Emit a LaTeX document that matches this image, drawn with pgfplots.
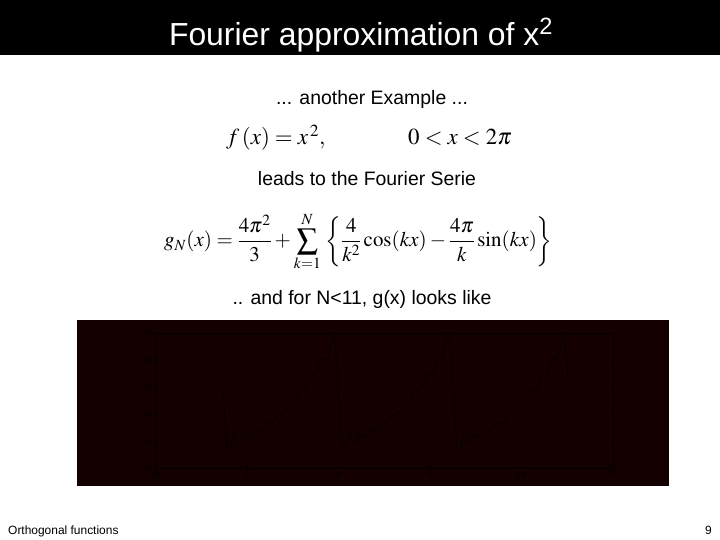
\documentclass[border=0pt]{standalone}
\usepackage{mathptmx}
\usepackage[no-math]{fontspec}
\setmainfont{Liberation Sans}
\usepackage{pgfplots}
\pgfplotsset{compat=1.18}
\definecolor{chartbg}{RGB}{20,0,0}
\begin{document}
\begin{tikzpicture}[x=1bp,y=1bp]
\useasboundingbox (0,0) rectangle (720,540);
\fill[white] (0,0) rectangle (720,540);
\fill[black] (0,485) rectangle (720,540);
\node[anchor=base,white,inner sep=0pt,font=\fontsize{32}{36}\selectfont] at (361,494) {Fourier approximation of x\textsuperscript{2}};
\node[anchor=base,inner sep=0pt,font=\fontsize{19.5}{22}\selectfont] at (372,435) {... another Example ...};
\node[anchor=base west,inner sep=0pt,font=\fontsize{23}{26}\selectfont] at (226,395) {$f\,(x) = x^{\,2},$};
\node[anchor=base west,inner sep=0pt,font=\fontsize{23}{26}\selectfont] at (408,395) {$0 < x < 2\pi$};
\node[anchor=base,inner sep=0pt,font=\fontsize{19.5}{22}\selectfont] at (367,354) {leads to the Fourier Serie};
\node[anchor=base west,inner sep=0pt,font=\fontsize{21}{25}\selectfont] at (164,293) {$\displaystyle g_N(x) = \frac{4\pi^2}{3} + \sum_{k=1}^{N}\,\left\{\frac{4}{k^2}\cos(kx) - \frac{4\pi}{k}\sin(kx)\right\}$};
\node[anchor=base,inner sep=0pt,font=\fontsize{19.5}{22}\selectfont] at (362,235) {.. and for N<11, g(x) looks like};
\node[anchor=base west,inner sep=0pt,font=\fontsize{12}{14}\selectfont] at (8,5) {Orthogonal functions};
\node[anchor=base east,inner sep=0pt,font=\fontsize{12}{14}\selectfont] at (712,5) {9};
\fill[chartbg] (77,54) rectangle (669,220);
\begin{axis}[
  at={(155bp,72bp)}, anchor=south west, scale only axis,
  width=458bp, height=135bp,
  xmin=-10, xmax=15, ymin=-10, ymax=40,
  xtick={-10,-5,0,5,10,15}, ytick={-10,0,10,20,30,40},
  axis line style={black, line width=0.4pt},
  tick style={black}, tick align=inside, major tick length=3bp,
  ticklabel style={font=\fontsize{8}{9}\selectfont, text=black},
  /pgf/number format/assume math mode=true,
  axis background/.style={fill=chartbg},
]
\addplot[black, line width=0.6pt] coordinates {
(-6.283,19.36) (-6.233,13.24) (-6.183,7.33) (-6.133,2.49) (-6.083,-0.94) (-6.033,-2.89) (-5.983,-3.44) (-5.933,-2.91) (-5.883,-1.69) (-5.833,-0.24) (-5.783,1.07) (-5.733,1.97) (-5.683,2.28) (-5.633,2.06) (-5.583,1.47) (-5.533,0.67) (-5.483,0.02) (-5.433,-0.41) (-5.383,-0.50) (-5.333,-0.20) (-5.283,0.35) (-5.233,1.03) (-5.183,1.69) (-5.133,2.19) (-5.083,2.43) (-4.983,2.15) (-4.883,1.46) (-4.783,1.37) (-4.683,2.18) (-4.583,3.32) (-4.483,4.00) (-4.383,3.94) (-4.283,3.61) (-4.183,3.72) (-4.083,4.54) (-3.983,5.65) (-3.883,6.40) (-3.783,6.53) (-3.683,6.41) (-3.583,6.68) (-3.483,7.58) (-3.383,8.75) (-3.283,9.60) (-3.183,9.86) (-3.083,9.90) (-2.983,10.29) (-2.883,11.31) (-2.783,12.60) (-2.683,13.57) (-2.583,13.94) (-2.483,14.07) (-2.383,14.57) (-2.283,15.74) (-2.183,17.21) (-2.083,18.33) (-1.983,18.77) (-1.883,18.91) (-1.783,19.49) (-1.683,20.85) (-1.583,22.60) (-1.483,23.92) (-1.383,24.36) (-1.283,24.39) (-1.2,24.85) (-1.15,25.48) (-1.1,26.39) (-1.05,27.46) (-1.0,28.56) (-0.95,29.54) (-0.9,30.29) (-0.85,30.65) (-0.8,30.69) (-0.75,30.51) (-0.7,30.19) (-0.65,30.09) (-0.6,30.38) (-0.55,31.20) (-0.5,32.63) (-0.45,34.47) (-0.4,36.46) (-0.35,38.23) (-0.3,39.33) (-0.25,39.35) (-0.2,37.99) (-0.15,35.15) (-0.1,30.91) (-0.05,25.61) (0,19.36)
(0.05,13.24) (0.1,7.33) (0.15,2.49) (0.2,-0.94) (0.25,-2.89) (0.3,-3.44) (0.35,-2.91) (0.4,-1.69) (0.45,-0.24) (0.5,1.07) (0.55,1.97) (0.6,2.28) (0.65,2.06) (0.7,1.47) (0.75,0.67) (0.8,0.02) (0.85,-0.41) (0.9,-0.50) (0.95,-0.20) (1.0,0.35) (1.05,1.03) (1.1,1.69) (1.15,2.19) (1.2,2.43) (1.3,2.15) (1.4,1.46) (1.5,1.37) (1.6,2.18) (1.7,3.32) (1.8,4.00) (1.9,3.94) (2.0,3.61) (2.1,3.72) (2.2,4.54) (2.3,5.65) (2.4,6.40) (2.5,6.53) (2.6,6.41) (2.7,6.68) (2.8,7.58) (2.9,8.75) (3.0,9.60) (3.1,9.86) (3.2,9.90) (3.3,10.29) (3.4,11.31) (3.5,12.60) (3.6,13.57) (3.7,13.94) (3.8,14.07) (3.9,14.57) (4.0,15.74) (4.1,17.21) (4.2,18.33) (4.3,18.77) (4.4,18.91) (4.5,19.49) (4.6,20.85) (4.7,22.60) (4.8,23.92) (4.9,24.36) (5.0,24.39) (5.083,24.85) (5.133,25.48) (5.183,26.39) (5.233,27.46) (5.283,28.56) (5.333,29.54) (5.383,30.29) (5.433,30.65) (5.483,30.69) (5.533,30.51) (5.583,30.19) (5.633,30.09) (5.683,30.38) (5.733,31.20) (5.783,32.63) (5.833,34.47) (5.883,36.46) (5.933,38.23) (5.983,39.33) (6.033,39.35) (6.083,37.99) (6.133,35.15) (6.183,30.91) (6.233,25.61) (6.283,19.36)
(6.333,13.24) (6.383,7.33) (6.433,2.49) (6.483,-0.94) (6.533,-2.89) (6.583,-3.44) (6.633,-2.91) (6.683,-1.69) (6.733,-0.24) (6.783,1.07) (6.833,1.97) (6.883,2.28) (6.933,2.06) (6.983,1.47) (7.033,0.67) (7.083,0.02) (7.133,-0.41) (7.183,-0.50) (7.233,-0.20) (7.283,0.35) (7.333,1.03) (7.383,1.69) (7.433,2.19) (7.483,2.43) (7.583,2.15) (7.683,1.46) (7.783,1.37) (7.883,2.18) (7.983,3.32) (8.083,4.00) (8.183,3.94) (8.283,3.61) (8.383,3.72) (8.483,4.54) (8.583,5.65) (8.683,6.40) (8.783,6.53) (8.883,6.41) (8.983,6.68) (9.083,7.58) (9.183,8.75) (9.283,9.60) (9.383,9.86) (9.483,9.90) (9.583,10.29) (9.683,11.31) (9.783,12.60) (9.883,13.57) (9.983,13.94) (10.083,14.07) (10.183,14.57) (10.283,15.74) (10.383,17.21) (10.483,18.33) (10.583,18.77) (10.683,18.91) (10.783,19.49) (10.883,20.85) (10.983,22.60) (11.083,23.92) (11.183,24.36) (11.283,24.39) (11.366,24.85) (11.416,25.48) (11.466,26.39) (11.516,27.46) (11.566,28.56) (11.616,29.54) (11.666,30.29) (11.716,30.65) (11.766,30.69) (11.816,30.51) (11.866,30.19) (11.916,30.09) (11.966,30.38) (12.016,31.20) (12.066,32.63) (12.116,34.47) (12.166,36.46) (12.216,38.23) (12.266,39.33) (12.316,39.35) (12.366,37.99) (12.416,35.15) (12.466,30.91) (12.516,25.61) (12.566,19.36)
};
\end{axis}
\end{tikzpicture}
\end{document}
